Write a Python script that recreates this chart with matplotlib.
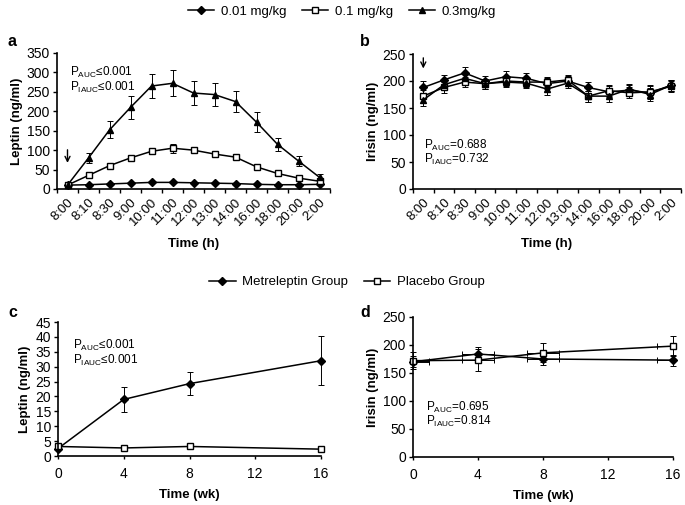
import numpy as np
import matplotlib.pyplot as plt

plt.rcParams['font.family'] = ['Liberation Sans', 'DejaVu Sans']
plt.rcParams['mathtext.fontset'] = 'custom'
plt.rcParams['mathtext.rm'] = 'Liberation Sans'

# ── Data ─────────────────────────────────────────────────────
hours = ['8:00', '8:10', '8:30', '9:00', '10:00', '11:00', '12:00',
         '13:00', '14:00', '16:00', '18:00', '20:00', '2:00']

lep_001 = [10, 11, 13, 15, 17, 17, 16, 15, 14, 12, 11, 11, 12]
lep_001_err = [2, 2, 2, 2, 2, 2, 2, 2, 2, 2, 2, 2, 2]
lep_01 = [10, 35, 60, 80, 97, 105, 100, 90, 82, 57, 40, 28, 20]
lep_01_err = [3, 4, 5, 5, 6, 12, 6, 5, 5, 4, 4, 5, 4]
lep_03 = [10, 80, 152, 210, 265, 272, 247, 243, 225, 172, 115, 72, 30]
lep_03_err = [8, 12, 22, 30, 31, 33, 32, 30, 27, 25, 17, 12, 8]

iri_001 = [188, 202, 215, 200, 208, 205, 195, 200, 188, 180, 183, 178, 192]
iri_01 = [172, 188, 198, 195, 200, 198, 198, 202, 172, 182, 178, 180, 190]
iri_03 = [165, 193, 205, 195, 198, 196, 185, 196, 172, 172, 185, 175, 192]
iri_err = [12, 10, 10, 9, 10, 9, 10, 9, 10, 10, 10, 12, 10]

weeks = [0, 4, 8, 16]
lep_met = [2.5, 19, 24.3, 32]
lep_met_err = [0.5, 4.3, 3.8, 8.2]
lep_pla = [3.2, 2.7, 3.2, 2.3]
lep_pla_err = [0.6, 0.4, 0.6, 0.4]
iri_met = [170, 184, 175, 173]
iri_met_err = [10, 12, 11, 10]
iri_pla = [172, 173, 186, 198]
iri_pla_err = [15, 20, 17, 18]

W, H = 685, 505
fig = plt.figure(figsize=(W / 100, H / 100), dpi=100)


def px_axes(x0, x1, ytop, ybot):
    return fig.add_axes([x0 / W, (H - ybot) / H, (x1 - x0) / W, (ybot - ytop) / H])


def ptext(x, y, s):
    # text placed in figure pixels (top-left origin)
    fig.text(x / W, 1 - y / H, s, fontsize=8.5, va='center', ha='left')


def style(ax):
    for s in ['top', 'right']:
        ax.spines[s].set_visible(False)
    for s in ['left', 'bottom']:
        ax.spines[s].set_linewidth(1.2)
    ax.tick_params(labelsize=10, length=3, width=1.0, pad=2)


ekw = dict(color='black', lw=1.1, capsize=2.5, elinewidth=0.7, capthick=0.7,
           markersize=4.5, clip_on=False)


def hour_panel(ax, series, ylim, yticks, ylabel):
    x = np.arange(len(hours))
    for y, err, mk, fc in series:
        ax.errorbar(x, y, yerr=err, fmt='-' + mk, mfc=fc, mec='black', **ekw)
    ax.set_xlim(-0.5, 12.5)
    ax.set_ylim(*ylim)
    ax.set_yticks(yticks)
    ax.set_xticks(np.arange(-0.5, 13, 1))
    ax.set_xticklabels([])
    ax.set_xticks(x, minor=True)
    ax.set_xticklabels(hours, minor=True, rotation=45, ha='right',
                       rotation_mode='anchor', fontsize=9.5)
    ax.tick_params(axis='x', which='minor', length=0, pad=5)
    ax.set_xlabel('Time (h)', fontweight='bold', fontsize=9.5, labelpad=7)
    ax.set_ylabel(ylabel, fontweight='bold', fontsize=9.5, labelpad=3)
    style(ax)


arrow = dict(arrowstyle='->', color='black', lw=1.0, mutation_scale=9)

# ── a. Leptin, hours ─────────────────────────────────────────
ax_a = px_axes(57, 330, 53, 189)
hour_panel(ax_a, [(lep_001, lep_001_err, 'D', 'black'),
                  (lep_01, lep_01_err, 's', 'white'),
                  (lep_03, lep_03_err, '^', 'black')],
           (0, 350), range(0, 351, 50), 'Leptin (ng/ml)')
ax_a.annotate('', xy=(0, 60), xytext=(0, 108), arrowprops=arrow)
ptext(70, 72, r'P$_{\mathrm{AUC}}$≤0.001')
ptext(70, 87, r'P$_{\mathrm{IAUC}}$≤0.001')
fig.text(8 / W, 1 - 46 / H, 'a', fontweight='bold', fontsize=11.5)

# ── b. Irisin, hours ─────────────────────────────────────────
ax_b = px_axes(413, 681, 54, 189)
hour_panel(ax_b, [(iri_001, iri_err, 'D', 'black'),
                  (iri_01, iri_err, 's', 'white'),
                  (iri_03, iri_err, '^', 'black')],
           (0, 250), range(0, 251, 50), 'Irisin (ng/ml)')
ax_b.annotate('', xy=(0, 218), xytext=(0, 248), arrowprops=arrow,
              annotation_clip=False)
ptext(424, 145, r'P$_{\mathrm{AUC}}$=0.688')
ptext(424, 159, r'P$_{\mathrm{IAUC}}$=0.732')
fig.text(360 / W, 1 - 46 / H, 'b', fontweight='bold', fontsize=11.5)

# top legend
h1 = plt.Line2D([], [], color='black', marker='D', mfc='black', markersize=4.5, lw=1.1)
h2 = plt.Line2D([], [], color='black', marker='s', mfc='white', markersize=4.5, lw=1.1)
h3 = plt.Line2D([], [], color='black', marker='^', mfc='black', markersize=4.5, lw=1.1)
fig.legend([h1, h2, h3], ['0.01 mg/kg', '0.1 mg/kg', '0.3mg/kg'],
           loc='center', bbox_to_anchor=(342 / W, 1 - 12 / H), ncol=3, frameon=False,
           fontsize=9.5, handlelength=2.0, columnspacing=1.2, handletextpad=0.5)


def week_panel(ax, series, ylim, yticks, ylabel, xerr=None):
    for y, err, mk, fc in series:
        if xerr is not None:
            ax.errorbar(weeks, y, xerr=xerr, fmt='none', ecolor='black',
                        elinewidth=0.7, capsize=2.5, capthick=0.7)
        ax.errorbar(weeks, y, yerr=err, fmt='-' + mk, mfc=fc, mec='black', **ekw)
    ax.set_xlim(0, 16)
    ax.set_ylim(*ylim)
    ax.set_yticks(yticks)
    ax.set_xticks([0, 4, 8, 12, 16])
    ax.set_xlabel('Time (wk)', fontweight='bold', fontsize=9.5, labelpad=6)
    ax.set_ylabel(ylabel, fontweight='bold', fontsize=9.5, labelpad=3)
    style(ax)
    ax.tick_params(axis='x', length=2, pad=6)


# ── c. Leptin, weeks ─────────────────────────────────────────
ax_c = px_axes(58, 321, 322, 456)
week_panel(ax_c, [(lep_met, lep_met_err, 'D', 'black'),
                  (lep_pla, lep_pla_err, 's', 'white')],
           (0, 45), range(0, 46, 5), 'Leptin (ng/ml)')
ptext(73, 345, r'P$_{\mathrm{AUC}}$≤0.001')
ptext(73, 360, r'P$_{\mathrm{IAUC}}$≤0.001')
fig.text(8 / W, 1 - 317 / H, 'c', fontweight='bold', fontsize=11.5)

# ── d. Irisin, weeks ─────────────────────────────────────────
ax_d = px_axes(413, 673, 317, 457)
week_panel(ax_d, [(iri_met, iri_met_err, 'D', 'black'),
                  (iri_pla, iri_pla_err, 's', 'white')],
           (0, 250), range(0, 251, 50), 'Irisin (ng/ml)', xerr=1)
ptext(426, 407, r'P$_{\mathrm{AUC}}$=0.695')
ptext(426, 421, r'P$_{\mathrm{IAUC}}$=0.814')
fig.text(360 / W, 1 - 317 / H, 'd', fontweight='bold', fontsize=11.5)

# bottom legend
fig.legend([h1, h2], ['Metreleptin Group', 'Placebo Group'],
           loc='center', bbox_to_anchor=(347 / W, 1 - 282 / H), ncol=2, frameon=False,
           fontsize=9.5, handlelength=2.0, columnspacing=1.2, handletextpad=0.5)

fig.savefig('out.png', dpi=100)
